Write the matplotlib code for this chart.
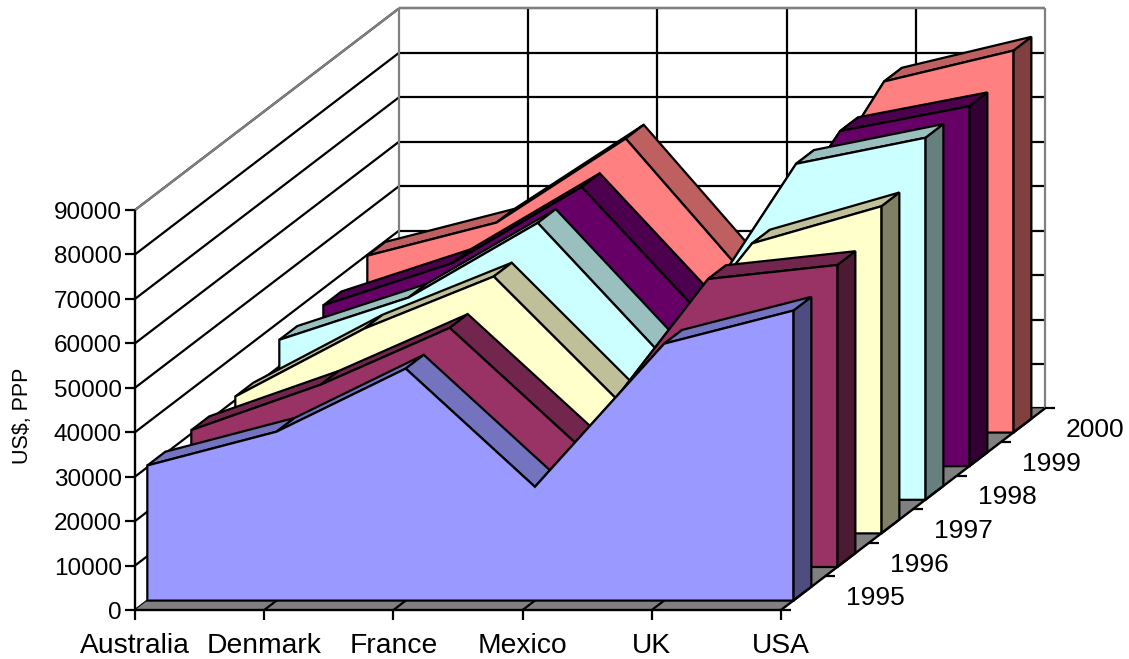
import matplotlib
matplotlib.use("Agg")
import matplotlib.pyplot as plt

plt.rcParams["font.family"] = ["Liberation Sans", "DejaVu Sans"]

countries = ["Australia", "Denmark", "France", "Mexico", "UK", "USA"]
years = ["1995", "1996", "1997", "1998", "1999", "2000"]

v1995 = [30400, 38000, 52200, 25600, 57800, 65250]
v1996 = [30800, 41000, 53800, 27200, 64800, 67950]
v1997 = [30800, 46100, 57800, 28800, 65250, 73600]
v1998 = [36000, 45500, 62300, 31300, 75600, 81450]
v1999 = [36200, 45700, 62800, 31700, 75400, 81000]
v2000 = [39800, 47250, 66150, 32850, 79000, 85950]
series = [v1995, v1996, v1997, v1998, v1999, v2000]

y_ticks = [0, 10000, 20000, 30000, 40000, 50000, 60000, 70000, 80000, 90000]

front_cols = ["#9999FF", "#993366", "#FFFFCC", "#CCFFFF", "#660066", "#FF8080"]
top_cols = ["#7373BF", "#73264D", "#BFBF99", "#99BFBF", "#4D004D", "#BF6060"]
side_cols = ["#4D4D80", "#4D1A33", "#808066", "#668080", "#330033", "#804040"]

# oblique projection of the 3d box, screen units are pixels
X0, Y0 = 135, 610
CAT_W = 129.2
DEPTH_DX, DEPTH_DY = 44.0, -33.6
VAL_SCALE = 400 / 90000
BAND_FRONT, BAND_BACK = 0.28, 0.69
LW = 1.6


def proj(cat, depth, val=0):
    return (X0 + cat * CAT_W + depth * DEPTH_DX,
            Y0 + depth * DEPTH_DY - val * VAL_SCALE)


def line(ax, a, b, color="black", z=1, lw=LW):
    ax.plot([a[0], b[0]], [a[1], b[1]], color=color, lw=lw, zorder=z,
            solid_capstyle="butt")


def poly(ax, pts, face, z):
    ax.fill([p[0] for p in pts], [p[1] for p in pts], facecolor=face,
            edgecolor="black", lw=LW, joinstyle="miter", zorder=z)


fig = plt.figure(figsize=(11.29, 6.59), dpi=100)
ax = fig.add_axes([0, 0, 1, 1])
ax.set_xlim(0, 1129)
ax.set_ylim(659, 0)
ax.axis("off")

n_cat = len(countries)
n_dep = len(years)
top_val = y_ticks[-1]

# gridlines on the walls
for v in y_ticks:
    line(ax, proj(0, 0, v), proj(0, n_dep, v), z=1)
    line(ax, proj(0, n_dep, v), proj(n_cat - 1, n_dep, v), z=1)
for c in range(1, n_cat - 1):
    line(ax, proj(c, n_dep, 0), proj(c, n_dep, top_val), z=1)

# wall outline is grey
grey = "#808080"
line(ax, proj(0, 0, top_val), proj(0, n_dep, top_val), grey, 1.5)
line(ax, proj(0, n_dep, top_val), proj(n_cat - 1, n_dep, top_val), grey, 1.5)
line(ax, proj(0, n_dep, 0), proj(0, n_dep, top_val), grey, 1.5)
line(ax, proj(n_cat - 1, n_dep, 0), proj(n_cat - 1, n_dep, top_val), grey, 1.5)

# floor
floor = [proj(0, 0), proj(n_cat - 1, 0), proj(n_cat - 1, n_dep), proj(0, n_dep)]
ax.fill([p[0] for p in floor], [p[1] for p in floor], color=grey, lw=0, zorder=1.6)
for c in range(1, n_cat - 1):
    line(ax, proj(c, 0), proj(c, n_dep), z=1.7)

# areas, back to front so the nearer ones cover the others
z = 2
for d in range(n_dep - 1, -1, -1):
    vals = series[d]
    d0, d1 = d + BAND_FRONT, d + BAND_BACK
    # right end
    poly(ax, [proj(n_cat - 1, d0), proj(n_cat - 1, d1),
              proj(n_cat - 1, d1, vals[-1]), proj(n_cat - 1, d0, vals[-1])],
         side_cols[d], z)
    z += 1
    # top bands
    for c in range(n_cat - 1):
        poly(ax, [proj(c, d0, vals[c]), proj(c + 1, d0, vals[c + 1]),
                  proj(c + 1, d1, vals[c + 1]), proj(c, d1, vals[c])],
             top_cols[d], z)
        z += 1
    # front
    pts = [proj(0, d0)] + [proj(c, d0, vals[c]) for c in range(n_cat)] + [proj(n_cat - 1, d0)]
    poly(ax, pts, front_cols[d], z)
    z += 1

# axes on top
line(ax, proj(0, 0, 0), proj(0, 0, top_val), z=z, lw=1.7)
line(ax, proj(0, 0), proj(n_cat - 1, 0), z=z, lw=1.7)
line(ax, proj(n_cat - 1, 0), proj(n_cat - 1, n_dep), z=z, lw=1.7)

for v in y_ticks:
    x, y = proj(0, 0, v)
    line(ax, (x - 10, y), (x, y), z=z)
    ax.text(x - 13, y + 3, str(v), ha="right", va="center", fontsize=17.5, color="black")

for c, name in enumerate(countries):
    x, y = proj(c, 0)
    line(ax, (x, y), (x, y + 10), z=z)
    ax.text(x, y + 36, name, ha="center", va="center", fontsize=20.3, color="black")

for d in range(n_dep + 1):
    x, y = proj(n_cat - 1, d)
    line(ax, (x, y), (x + 10, y), z=z)
for d, name in enumerate(years):
    x, y = proj(n_cat - 1, d + 0.5)
    ax.text(x + 43, y + 5, name, ha="left", va="center", fontsize=19, color="black")

ax.text(23, 416, "US$, PPP", rotation=90, ha="center", va="center", fontsize=15.5, color="black")

fig.savefig("out.png", dpi=100)
